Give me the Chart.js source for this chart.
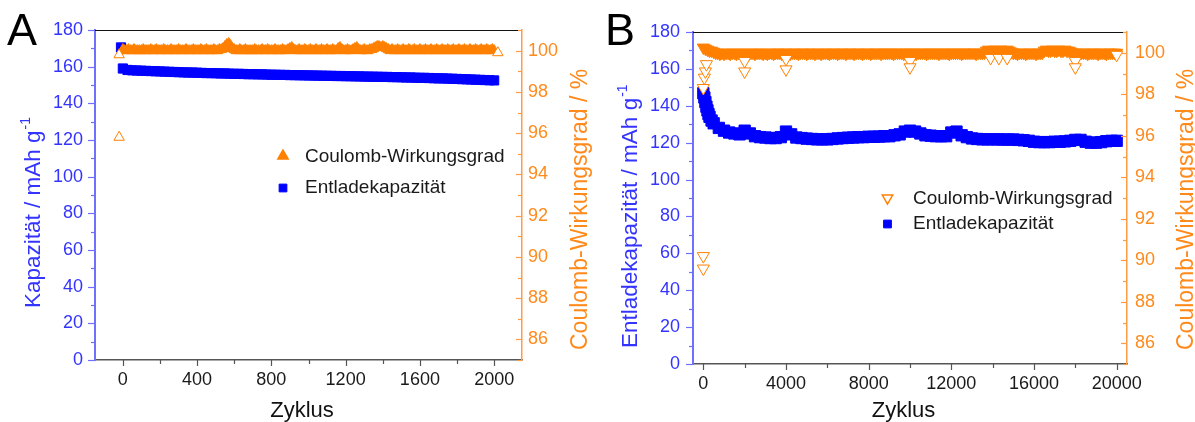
<!DOCTYPE html>
<html><head><meta charset="utf-8">
<script src="https://cdn.jsdelivr.net/npm/chart.js@4.4.0/dist/chart.umd.min.js"></script>
<style>
html,body{margin:0;padding:0;background:#fff;}
#wrap{position:relative;width:1195px;height:422px;overflow:hidden;background:#fff;}
canvas{position:absolute;top:0;}
#cA{left:0;} #cB{left:597px;}
</style></head><body>
<div id="wrap"><canvas id="cA" width="597" height="422"></canvas><canvas id="cB" width="598" height="422"></canvas></div>
<script>
// ---------- Panel A data (2000 cycles) ----------
const capCyclesA = [-10,0,25,50,75,100,125,150,175,200,225,250,275,300,325,350,375,400,425,450,475,500,525,550,575,600,625,650,675,700,725,750,775,800,825,850,875,900,925,950,975,1000,1025,1050,1075,1100,1125,1150,1175,1200,1225,1250,1275,1300,1325,1350,1375,1400,1425,1450,1475,1500,1525,1550,1575,1600,1625,1650,1675,1700,1725,1750,1775,1800,1825,1850,1875,1900,1925,1950,1975,2000];
const capacityA = [170.5,159.0,158.2,158.0,157.9,157.8,157.7,157.6,157.5,157.4,157.3,157.2,157.1,157.0,156.9,156.8,156.8,156.7,156.6,156.5,156.5,156.4,156.3,156.3,156.2,156.1,156.1,156.0,155.9,155.9,155.8,155.8,155.7,155.6,155.6,155.5,155.5,155.4,155.4,155.3,155.3,155.2,155.2,155.1,155.1,155.0,155.0,154.9,154.9,154.8,154.8,154.7,154.7,154.6,154.6,154.5,154.5,154.4,154.4,154.3,154.3,154.2,154.1,154.1,154.0,153.9,153.9,153.8,153.7,153.6,153.6,153.5,153.4,153.3,153.2,153.1,153.0,152.9,152.8,152.7,152.6,152.5];
const ceCyclesA = [0,10,20,30,40,50,60,70,80,90,100,110,120,130,140,150,160,170,180,190,200,210,220,230,240,250,260,270,280,290,300,310,320,330,340,350,360,370,380,390,400,410,420,430,440,450,460,470,480,490,500,510,520,530,540,550,560,570,580,590,600,610,620,630,640,650,660,670,680,690,700,710,720,730,740,750,760,770,780,790,800,810,820,830,840,850,860,870,880,890,900,910,920,930,940,950,960,970,980,990,1000,1010,1020,1030,1040,1050,1060,1070,1080,1090,1100,1110,1120,1130,1140,1150,1160,1170,1180,1190,1200,1210,1220,1230,1240,1250,1260,1270,1280,1290,1300,1310,1320,1330,1340,1350,1360,1370,1380,1390,1400,1410,1420,1430,1440,1450,1460,1470,1480,1490,1500,1510,1520,1530,1540,1550,1560,1570,1580,1590,1600,1610,1620,1630,1640,1650,1660,1670,1680,1690,1700,1710,1720,1730,1740,1750,1760,1770,1780,1790,1800,1810,1820,1830,1840,1850,1860,1870,1880,1890,1900,1910,1920,1930,1940,1950,1960,1970,1980,1990,2000];
const ceA = [
100.05,100,100,100.05,100,100,100.05,100,100,100,
100,100.05,100,100,100,100.05,100,100,100.05,100,
100,100,100.05,100,100,100,100.05,100,100,100,
100.05,100,100,100,100.05,100,100,100,100.05,100,
100,100,100.05,100,100,100.05,100,100,100,100.05,
100,100,100.05,100.05,100.1,100.2,100.3,100.35,100.25,100.1,
100.05,100,100,100.05,100,100,100.05,100,100,100,
100,100.05,100,100,100,100.05,100,100,100.05,100,
100,100,100.05,100,100,100,100.05,100,100,100.05,
100.1,100.15,100.05,100,100,100.05,100,100,100.05,100,
100,100.05,100,100,100.05,100,100,100.05,100,100,
100.05,100,100,100.05,100,100,100.1,100.15,100.05,100,
100,100.05,100,100,100.05,100.1,100.15,100.05,100,100,
100.05,100,100,100.05,100.05,100.1,100.15,100.2,100.2,100.15,
100.2,100.15,100.1,100.05,100,100.05,100,100,100.05,100,
100,100.05,100,100,100.05,100,100,100.05,100,100,
100.05,100,100,100.05,100,100,100.05,100,100,100.05,
100,100,100.05,100,100,100.05,100,100,100.05,100,
100,100.05,100,100,100.05,100,100,100.05,100,100,
100.05,100,100,100.05,100,100,100.05,100,100,100.05,
100];
const ceOutCyclesA = [-20,-20,2020];
const ceOutA = [95.8,99.8,99.9];
const xTicksA = [0,400,800,1200,1600,2000];
const xMinorA = [200,600,1000,1400,1800];

// ---------- Panel B data (20000 cycles) ----------
const capCyclesB = [0,50,100,150,200,250,300,400,500,750,1000,1250,1500,1750,2000,2250,2500,2750,3000,3250,3500,3750,4000,4250,4500,4750,5000,5250,5500,5750,6000,6250,6500,6750,7000,7250,7500,7750,8000,8250,8500,8750,9000,9250,9500,9750,10000,10250,10500,10750,11000,11250,11500,11750,12000,12250,12500,12750,13000,13250,13500,13750,14000,14250,14500,14750,15000,15250,15500,15750,16000,16250,16500,16750,17000,17250,17500,17750,18000,18250,18500,18750,19000,19250,19500,19750,20000];
const capacityB = [146.8,144.5,142.0,139.5,137.5,135.5,134.0,132.0,130.5,128.0,126.5,125.5,125.0,124.5,126.5,125.0,123.5,123.0,122.8,122.5,122.5,123.0,126.0,124.5,122.8,122.5,122.2,122.0,121.8,121.8,121.8,122.0,122.3,122.5,122.7,122.8,123.0,123.0,123.2,123.2,123.3,123.5,123.5,124.0,124.5,126.0,126.5,126.0,125.0,124.0,123.8,123.5,123.5,123.5,125.5,126.0,124.0,123.0,122.3,122.0,121.8,121.8,121.8,121.8,121.7,121.7,121.7,121.5,121.3,121.0,120.5,120.3,120.3,120.3,120.5,120.5,120.7,121.0,121.5,121.5,120.5,120.0,120.0,120.3,120.8,121.0,121.0];
const ceCyclesB = [0,100,200,300,400,500,600,700,800,900,1000,1100,1200,1300,1400,1500,1600,1700,1800,1900,2000,2100,2200,2300,2400,2500,2600,2700,2800,2900,3000,3100,3200,3300,3400,3500,3600,3700,3800,3900,4000,4100,4200,4300,4400,4500,4600,4700,4800,4900,5000,5100,5200,5300,5400,5500,5600,5700,5800,5900,6000,6100,6200,6300,6400,6500,6600,6700,6800,6900,7000,7100,7200,7300,7400,7500,7600,7700,7800,7900,8000,8100,8200,8300,8400,8500,8600,8700,8800,8900,9000,9100,9200,9300,9400,9500,9600,9700,9800,9900,10000,10100,10200,10300,10400,10500,10600,10700,10800,10900,11000,11100,11200,11300,11400,11500,11600,11700,11800,11900,12000,12100,12200,12300,12400,12500,12600,12700,12800,12900,13000,13100,13200,13300,13400,13500,13600,13700,13800,13900,14000,14100,14200,14300,14400,14500,14600,14700,14800,14900,15000,15100,15200,15300,15400,15500,15600,15700,15800,15900,16000,16100,16200,16300,16400,16500,16600,16700,16800,16900,17000,17100,17200,17300,17400,17500,17600,17700,17800,17900,18000,18100,18200,18300,18400,18500,18600,18700,18800,18900,19000,19100,19200,19300,19400,19500,19600,19700,19800,19900,20000];
const ceB = [
100.25,100.2,100.15,100.1,100.1,100.05,100,100,99.95,100,
99.95,100,100,99.95,100,100,99.95,100,100,99.95,
100,100,99.95,100,100,99.95,100,100,100,99.95,
100,99.95,100,100,99.95,100,100,100,99.95,100,
100,100,99.95,100,100,100,99.95,100,100,100,
99.95,100,100,100,99.95,100,100,99.95,100,100,
100,99.95,100,100,100,99.95,100,100,100,99.95,
100,100,100,99.95,100,100,100,99.95,100,100,
100,99.95,100,100,100,100,99.95,100,100,100,
100,100,99.95,100,100,100,100,99.95,100,100,
100,100,100,99.95,100,100,100,100,99.95,100,
100,100,100,100,99.95,100,100,100,100,99.95,
100,100,100,100,100,99.95,100,100,100,100,
100,100,99.95,100,100,100,100,100.1,100.15,100.1,
100.1,100.15,100.1,100.1,100.15,100.1,100.1,100.15,100.1,100.05,
100,100,99.95,100,100,100,99.95,100,100,100,
100,99.95,100,100,100,100.1,100.15,100.1,100.1,100.15,
100.1,100.1,100.15,100.1,100.1,100.15,100.1,100.1,100.05,100,
100,100,99.95,100,100,100,99.95,100,100,100,
100,99.95,100,100,100,99.95,100,100,100,100,
100];
const ceOutCyclesB = [0,0,0,50,100,150,2000,2000,4000,4000,10000,10000,13900,14300,14700,18000,18000,20000];
const ceOutB = [89.6,90.2,98.3,98.8,99.1,99.45,99.6,99.1,99.7,99.2,99.6,99.3,99.75,99.75,99.75,99.6,99.3,99.9];
const xTicksB = [0,4000,8000,12000,16000,20000];
const xMinorB = [2000,6000,10000,14000,18000];

// ---------- shared axis ticks ----------
const capTicks = [0,20,40,60,80,100,120,140,160,180];
const capMinor = [10,30,50,70,90,110,130,150,170];
const ceTicks = [86,88,90,92,94,96,98,100];
const ceMinor = [85,87,89,91,93,95,97,99,101];

const seriesNames = ['Coulomb-Wirkungsgrad','Entladekapazität'];

const BLUE='#0000ff', ORANGE='#ff8000', BLUE_TXT='#3434ff', ORANGE_TXT='#ff8a1c';
const BLUE_AX='#7070ff', ORANGE_AX='#ff9c45', GRAY_AX='#555555';
const FONT='"Liberation Sans", Arial, Helvetica, sans-serif';

function pts(xs, ys){ return xs.map((x,i)=>({x:x, y:ys[i]})); }

function vTitle(ctx, text, sup, baseX, startY, color, size){
  ctx.save();
  ctx.translate(baseX, startY);
  ctx.rotate(-Math.PI/2);
  ctx.fillStyle = color;
  ctx.textBaseline = 'alphabetic';
  ctx.textAlign = 'left';
  ctx.font = size + 'px ' + FONT;
  ctx.fillText(text, 0, 0);
  if (sup) {
    const w = ctx.measureText(text).width;
    ctx.font = Math.round(size*0.62) + 'px ' + FONT;
    ctx.fillText(sup, w + 1, -size*0.42);
  }
  ctx.restore();
}

const decor = {
  id: 'decor',
  afterDraw(chart, args, o) {
    const ctx = chart.ctx, a = chart.chartArea;
    const sx = chart.scales.x, sy = chart.scales.y, sy1 = chart.scales.y1;
    const H = Chart.helpers;
    ctx.save();
    function ln(x1,y1,x2,y2){ ctx.beginPath(); ctx.moveTo(x1,y1); ctx.lineTo(x2,y2); ctx.stroke(); }
    ctx.strokeStyle = '#111'; ctx.lineWidth = 1;
    ln(a.left, a.top + 0.5, a.right, a.top + 0.5);
    ctx.strokeStyle = BLUE_AX; ctx.lineWidth = 1.2;
    capTicks.forEach(v => { const y = Math.round(sy.getPixelForValue(v)) + 0.5; ln(a.left - 7, y, a.left, y); });
    capMinor.forEach(v => { const y = Math.round(sy.getPixelForValue(v)) + 0.5; ln(a.left - 4, y, a.left, y); });
    ctx.strokeStyle = ORANGE_AX;
    ceTicks.forEach(v => { const y = Math.round(sy1.getPixelForValue(v)) + 0.5; ln(a.right - 6, y, a.right, y); });
    ceMinor.forEach(v => { const y = Math.round(sy1.getPixelForValue(v)) + 0.5; ln(a.right - 4, y, a.right, y); });
    ctx.strokeStyle = GRAY_AX;
    o.xTicks.forEach(v => { const x = Math.round(sx.getPixelForValue(v)) + 0.5; ln(x, a.bottom, x, a.bottom + 6); });
    o.xMinor.forEach(v => { const x = Math.round(sx.getPixelForValue(v)) + 0.5; ln(x, a.bottom, x, a.bottom + 4); });
    ctx.fillStyle = '#000'; ctx.font = '45px ' + FONT; ctx.textBaseline = 'alphabetic'; ctx.textAlign = 'left';
    ctx.fillText(o.letter, o.letterX, 45);
    ctx.fillStyle = '#111'; ctx.font = '22px ' + FONT; ctx.textAlign = 'center';
    ctx.fillText('Zyklus', o.zykX, 417);
    vTitle(ctx, o.leftTitle, '-1', o.leftBaseX, o.leftStartY, BLUE_TXT, 22.5);
    vTitle(ctx, 'Coulomb-Wirkungsgrad / %', null, o.rightBaseX, 350, ORANGE_TXT, 23);
    ctx.font = '19px ' + FONT; ctx.textAlign = 'left'; ctx.textBaseline = 'middle';
    ctx.fillStyle = o.legTriFill; ctx.strokeStyle = ORANGE; ctx.lineWidth = 1.5;
    H.drawPoint(ctx, {pointStyle:'triangle', rotation:o.rot, radius:6, borderWidth:1.5}, o.legX, o.legY1);
    ctx.fillStyle = BLUE; ctx.strokeStyle = BLUE; ctx.lineWidth = 1;
    H.drawPoint(ctx, {pointStyle:'rect', rotation:0, radius:5.5, borderWidth:1}, o.legX, o.legY2);
    ctx.fillStyle = '#1a1a1a';
    ctx.fillText(seriesNames[0], o.legTextX, o.legY1 + 1);
    ctx.fillText(seriesNames[1], o.legTextX, o.legY2);
    ctx.restore();
  }
};

function makeChart(id, o) {
  const nMain = o.ceX.length;
  const ceData = pts(o.ceX, o.ceY).concat(pts(o.outX, o.outY));
  const tickFont = {family: FONT, size: 18};
  return new Chart(document.getElementById(id), {
    type: 'scatter',
    data: { datasets: [
      { label: seriesNames[0], data: ceData, yAxisID: 'y1', pointStyle: 'triangle', pointRotation: o.rot,
        pointRadius: o.triR, pointBorderWidth: 1, pointBorderColor: ORANGE,
        pointBackgroundColor: c => c.dataIndex >= nMain ? '#ffffff' : ORANGE },
      { label: seriesNames[1], data: pts(o.capX, o.capY), yAxisID: 'y', pointStyle: 'rect',
        pointRadius: o.sqR, pointBorderWidth: 1, pointBorderColor: BLUE, pointBackgroundColor: BLUE }
    ]},
    options: {
      responsive: false, animation: false, devicePixelRatio: 1,
      layout: { padding: { top: o.top, left: 0, right: 0, bottom: 0 } },
      plugins: { legend: { display: false }, tooltip: { enabled: false }, decor: o },
      scales: {
        x: { type: 'linear', min: o.xMin, max: o.xMax,
             afterFit: s => { s.height = o.xH; },
             afterBuildTicks: s => { s.ticks = o.xTicks.map(v => ({value: v})); },
             grid: { display: false, drawTicks: false },
             border: { display: true, color: GRAY_AX, width: 1.5 },
             ticks: { padding: 9, color: '#1a1a1a', font: tickFont, autoSkip: false, maxRotation: 0, callback: v => String(v) } },
        y: { position: 'left', min: 0, max: 180,
             afterFit: s => { s.width = o.yW; },
             afterBuildTicks: s => { s.ticks = capTicks.map(v => ({value: v})); },
             grid: { display: false, drawTicks: false },
             border: { display: true, color: BLUE_AX, width: 2 },
             ticks: { padding: o.yPad, color: BLUE_TXT, font: tickFont, callback: v => String(v) } },
        y1: { position: 'right', min: 85, max: 101,
             afterFit: s => { s.width = o.y1W; },
             afterBuildTicks: s => { s.ticks = ceTicks.map(v => ({value: v})); },
             grid: { display: false, drawTicks: false },
             border: { display: true, color: ORANGE_AX, width: 1.5 },
             ticks: { padding: o.y1Pad, color: ORANGE_TXT, font: tickFont, callback: v => String(v) } }
      }
    },
    plugins: [decor]
  });
}

makeChart('cA', {
  capX: capCyclesA, capY: capacityA, ceX: ceCyclesA, ceY: ceA, outX: ceOutCyclesA, outY: ceOutA,
  xTicks: xTicksA, xMinor: xMinorA, xMin: -150, xMax: 2150,
  top: 30, xH: 62, yW: 95, y1W: 75, yPad: 12, y1Pad: 6,
  rot: 0, triR: 6, sqR: 6.5,
  letter: 'A', letterX: 7, zykX: 302,
  leftTitle: 'Kapazität / mAh g', leftBaseX: 39.5, leftStartY: 308, rightBaseX: 587,
  legX: 283, legY1: 156, legY2: 188, legTextX: 305, legTriFill: ORANGE
});
makeChart('cB', {
  capX: capCyclesB, capY: capacityB, ceX: ceCyclesB, ceY: ceB, outX: ceOutCyclesB, outY: ceOutB,
  xTicks: xTicksB, xMinor: xMinorB, xMin: -500, xMax: 20500,
  top: 32, xH: 58, yW: 96, y1W: 68, yPad: 13, y1Pad: 8,
  rot: 180, triR: 7, sqR: 8,
  letter: 'B', letterX: 8, zykX: 306.5,
  leftTitle: 'Entladekapazität / mAh g', leftBaseX: 39.5, leftStartY: 348, rightBaseX: 596,
  legX: 290.5, legY1: 198, legY2: 224, legTextX: 316, legTriFill: '#ffffff'
});
</script>
</body></html>
